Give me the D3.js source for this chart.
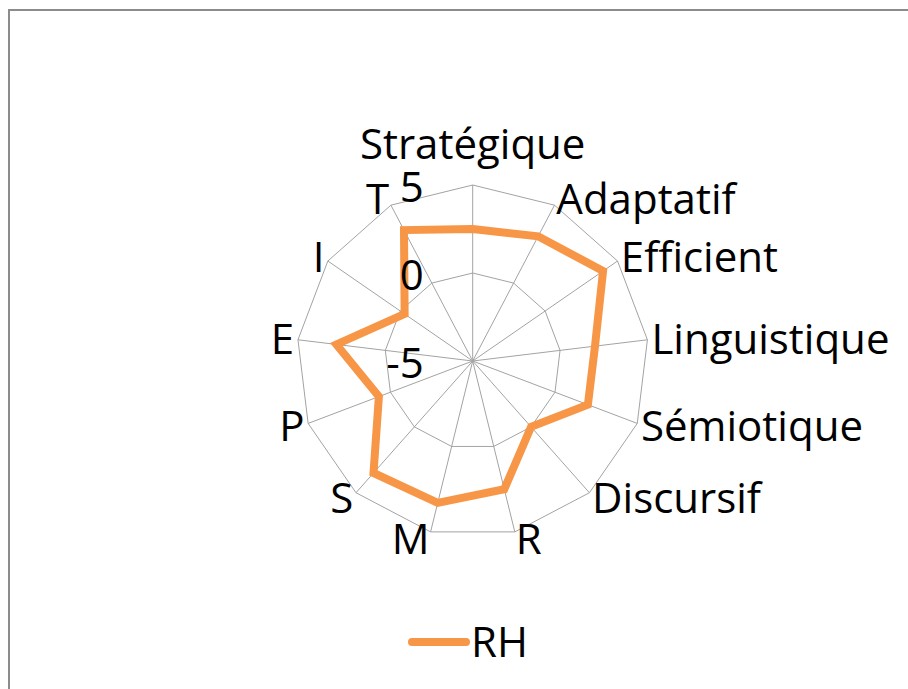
<!DOCTYPE html>
<html>
<head>
<meta charset="utf-8">
<script src="https://cdn.jsdelivr.net/npm/d3@7"></script>
<style>
  body { margin: 0; background: #fff; }
  svg text { font-family: "Open Sans", sans-serif; font-size: 42px; fill: #000; }
</style>
</head>
<body>
<div id="chart"></div>
<script>
// axes of the radar, clockwise from the top
const categories = ["Stratégique", "Adaptatif", "Efficient", "Linguistique", "Sémiotique",
    "Discursif", "R", "M", "S", "P", "E", "I", "T"];
// values of the single series
const seriesName = "RH";
const rhValues = [2.5, 3, 4, 2, 2, 0, 2.5, 3.3, 3.5, 0.7, 2.8, -0.3, 3.4];
// radial axis
const radialDomain = [-5, 5];
const tickValues = [-5, 0, 5];

const width = 908, height = 689;
const cx = 472.7, cy = 361, outerR = 176;

const svg = d3.select("#chart").append("svg")
    .attr("width", width)
    .attr("height", height);

// chart frame
svg.append("rect")
    .attr("x", 9).attr("y", 10)
    .attr("width", 1000).attr("height", 1000)
    .attr("fill", "#fff")
    .attr("stroke", "#8c8c8c")
    .attr("stroke-width", 2);

const r = d3.scaleLinear().domain(radialDomain).range([0, outerR]);
const step = 2 * Math.PI / categories.length;
const ang = c => categories.indexOf(c) * step;

const g = svg.append("g").attr("transform", `translate(${cx},${cy})`);

// ring gridlines (polygons)
const ringLine = d3.lineRadial().angle(d => ang(d)).curve(d3.curveLinearClosed);
g.append("g").selectAll("path")
    .data(tickValues.filter(t => t > radialDomain[0]))
    .join("path")
    .attr("d", t => ringLine.radius(r(t))(categories))
    .attr("fill", "none")
    .attr("stroke", "#a3a3a3")
    .attr("stroke-width", 1);

// spokes
g.append("g").selectAll("line")
    .data(categories)
    .join("line")
    .attr("x1", 0).attr("y1", 0)
    .attr("x2", d => r(radialDomain[1]) * Math.sin(ang(d)))
    .attr("y2", d => -r(radialDomain[1]) * Math.cos(ang(d)))
    .attr("stroke", "#a3a3a3")
    .attr("stroke-width", 1);

// the series
const seriesLine = d3.lineRadial()
    .angle((d, i) => i * step)
    .radius(d => r(d))
    .curve(d3.curveLinearClosed);
g.append("path")
    .datum(rhValues)
    .attr("d", seriesLine)
    .attr("fill", "none")
    .attr("stroke", "#f79646")
    .attr("stroke-width", 8)
    .attr("stroke-linejoin", "miter");

// category labels, set next to the outer vertex
g.append("g").selectAll("text")
    .data(categories)
    .join("text")
    .each(function(d) {
        const a = ang(d), s = Math.sin(a), c = Math.cos(a);
        const vx = outerR * s, vy = -outerR * c;
        let anchor = "middle";
        if (s > 0.1) anchor = "start";
        if (s < -0.1) anchor = "end";
        const mid = vy - 7 * c - (c > 0.95 ? 34 : 0);
        d3.select(this)
            .attr("x", vx + 4 * s)
            .attr("y", mid + 15)
            .attr("text-anchor", anchor)
            .text(d);
    });

// radial tick labels along the first axis
g.append("g").selectAll("text")
    .data(tickValues)
    .join("text")
    .attr("x", -49)
    .attr("y", t => -r(t) + 17)
    .attr("text-anchor", "end")
    .text(t => t < 0 ? "-" + Math.abs(t) : t);

// legend
const legend = svg.append("g").attr("transform", "translate(412,642)");
legend.append("line")
    .attr("x1", 0).attr("x2", 54)
    .attr("y1", 0).attr("y2", 0)
    .attr("stroke", "#f79646")
    .attr("stroke-width", 8)
    .attr("stroke-linecap", "round");
legend.append("text")
    .attr("x", 59)
    .attr("y", 15)
    .text(seriesName);
</script>
</body>
</html>
